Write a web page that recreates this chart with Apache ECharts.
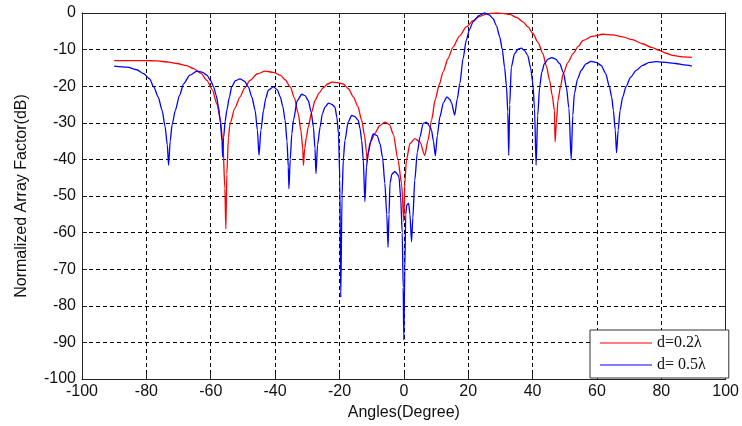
<!DOCTYPE html>
<html>
<head>
<meta charset="utf-8">
<script src="https://cdn.jsdelivr.net/npm/echarts@6/dist/echarts.min.js"></script>
<style>
html,body{margin:0;padding:0;background:#fff;}
#chart{width:742px;height:426px;}
</style>
</head>
<body>
<div id="chart"></div>
<script>
// Tick values
var xTicks = [-100, -80, -60, -40, -20, 0, 20, 40, 60, 80, 100];
var yTicks = [-100, -90, -80, -70, -60, -50, -40, -30, -20, -10, 0];

var seriesNames = ['d=0.2\u03bb', 'd= 0.5\u03bb'];

// d = 0.2 lambda (red)
var redX = [-90,-85,-80,-76.7,-73,-70.5,-67.5,-65.3,-63,-61.2,-59.5,-58.1,-57,-56.2,-55.6,-55.3,-55,-54.5,-54,-52.5,-50.9,-49.5,-47.8,-45.5,-43.1,-40.5,-38.4,-36.8,-35.3,-34,-32.8,-32,-31.4,-31.2,-30.8,-30.3,-29.7,-28.6,-27.6,-26.3,-25,-23.7,-22.4,-20.5,-18.8,-17.2,-15.7,-14.3,-13.1,-12.2,-11.6,-11.4,-11,-10.2,-9,-7.5,-5.9,-4.5,-3.3,-1.8,-0.7,0,0.3,0.8,1.9,3.4,5,6.5,7.5,8.6,9.8,11,12.2,13.7,15.3,17.3,19.4,21.5,23.6,26,28.7,30.8,32.9,35,37,38.6,40.1,41.7,43.2,44.3,45.3,46.1,46.8,47,47.4,47.9,48.7,49.5,51,52.6,54.2,55.7,58.5,61.9,65,68,71,74.2,77,79.4,81.5,83.5,86.5,89.5];
var redY = [-13,-13,-13,-13.1,-13.4,-13.8,-14.4,-15.2,-16.5,-18.4,-21,-24.8,-29,-36,-48,-59,-44,-34,-30.2,-26,-22.9,-20.5,-18.4,-16.6,-15.9,-16.2,-17,-18.3,-20.2,-23.2,-27.5,-32,-37,-41.6,-37,-34,-31.1,-27,-23.9,-21.8,-20.4,-19.4,-18.9,-19,-19.4,-20.7,-22.9,-25.5,-29.3,-33.5,-38,-40.5,-38,-35,-32.9,-30.8,-29.8,-30.5,-33,-40.2,-46.6,-57,-46.6,-40.2,-35.7,-34.3,-35.2,-38.9,-34.8,-29.3,-23.5,-19.6,-16.1,-12.5,-9.3,-6.3,-3.8,-2.1,-0.9,-0.2,0,-0.1,-0.4,-1.2,-2.4,-3.8,-5.6,-8,-11.1,-14.5,-18.4,-22.5,-26.6,-35.2,-30,-23.9,-20,-16.6,-13.5,-11.1,-9.1,-7.5,-6.4,-5.8,-6,-6.5,-7.3,-8.4,-9.4,-10.2,-11,-11.6,-12,-12.1];

// d = 0.5 lambda (blue)
var blueX = [-90,-86,-83,-80.8,-79,-77.7,-76.3,-75.1,-74.2,-73.5,-73.1,-72.6,-72,-71,-69.7,-68.4,-66.5,-64.3,-62.5,-61.2,-60,-59.1,-58.3,-57.6,-57,-56.5,-56.3,-56,-55.5,-55,-54.2,-53.5,-52.3,-50.9,-49.5,-48.3,-47.2,-46.2,-45.5,-45,-44.4,-43.6,-42.9,-42.1,-40.5,-39.3,-38.4,-37.6,-36.9,-36.3,-35.9,-35.7,-35.3,-34.8,-34.3,-33.1,-31.7,-30.7,-29.7,-28.8,-28.1,-27.6,-27.3,-26.8,-26,-25.3,-24.5,-23.4,-22.3,-21.4,-20.8,-20.3,-19.9,-19.6,-19.2,-18.8,-18.3,-17.3,-16.2,-15.2,-14.2,-13.6,-13.1,-12.6,-12.1,-11.6,-11.1,-10.5,-9.5,-8.3,-7.4,-6.6,-5.9,-5.3,-4.9,-4.6,-4.3,-3.7,-2.8,-2,-1.5,-1,-0.5,-0.2,0,0.3,0.6,0.9,1.5,1.9,2.4,2.8,3.4,4.2,5,6,7,8.1,8.6,9.2,9.8,10.4,11.2,12.3,13.4,14.3,14.8,15.8,16.6,17.4,18.4,19.4,20.4,21.5,23.3,25.1,26.5,27.7,28.8,29.8,30.6,31.3,31.9,32.3,32.6,32.9,33.4,34.4,35.5,36.5,37.5,38.5,39.4,40.1,40.6,41.1,41.6,42.2,42.9,43.7,44.8,46,47.2,48.4,49.6,50.5,51.3,52,52.5,53,54,55.1,56.6,58.2,59.8,61.3,62.7,63.9,64.6,65.1,65.7,66.1,66.6,67.2,68,69,70.5,72.2,74.2,76.3,78.3,80.4,82.5,84.5,87,89.5];
var blueY = [-14.5,-14.8,-15.5,-16.6,-18,-20.2,-23,-26.6,-31,-36,-41.6,-35,-30.5,-26.6,-22.5,-19.3,-17,-15.9,-16.2,-17,-18.5,-20.2,-22.5,-25.5,-30,-35,-39.3,-34,-29.5,-26.6,-23,-20.2,-18.5,-18,-18.6,-20.2,-23,-26.6,-32,-38.9,-32,-26.6,-23.3,-21.1,-20.2,-21,-22.9,-25.5,-29.3,-35,-42,-48,-40,-33,-29.3,-23.9,-22.2,-22.6,-23.9,-27,-31.1,-37,-43.9,-36,-31.1,-27.5,-25.7,-24.6,-25,-25.7,-28.5,-33,-45,-77.7,-50,-40,-34.8,-29.8,-28,-28.3,-29.3,-31.5,-34.8,-40,-51.5,-42,-38.4,-35.5,-33,-33.5,-35.7,-39.5,-46.5,-55,-64,-55,-46.5,-44,-43.3,-44,-44.8,-50.3,-60,-75,-89.4,-70,-55,-52.5,-52,-55,-62.5,-56,-45.7,-38,-33.9,-30.2,-29.8,-31,-32,-35,-39,-33.5,-28.4,-24.5,-22.9,-23.6,-24.5,-27.9,-23.5,-19.3,-12.5,-7.5,-4.5,-2.4,-0.7,0,-0.5,-1.5,-3.5,-6.5,-10,-14.8,-20,-27,-38.9,-25,-14.8,-11.1,-9.9,-9.6,-10.3,-11.6,-15,-19.3,-26,-41.6,-28,-20.2,-16,-13.8,-12.6,-12.2,-12.6,-13.8,-16.3,-20.2,-26,-40.1,-28,-22,-18,-15.7,-13.9,-13.2,-13.5,-14.3,-16.5,-20.2,-23,-26.6,-32,-38.2,-32,-26.6,-23,-20.2,-17.5,-15.7,-14.3,-13.5,-13.3,-13.4,-13.6,-13.8,-14.2,-14.5];

function zip(xs, ys) { var o = []; for (var i = 0; i < xs.length; i++) o.push([xs[i], ys[i]]); return o; }

var chart = echarts.init(document.getElementById('chart'), null, {renderer: 'canvas'});
var labelFont = {color: '#111', fontFamily: 'Liberation Sans, Arial, sans-serif', fontSize: 16};
var dash = {show: true, lineStyle: {color: '#000', type: [4, 3], width: 1}};
var xMin = xTicks[0], xMax = xTicks[xTicks.length - 1], xStep = xTicks[1] - xTicks[0];
var yMin = yTicks[0], yMax = yTicks[yTicks.length - 1], yStep = yTicks[1] - yTicks[0];

chart.setOption({
  backgroundColor: '#fff',
  animation: false,
  grid: {left: 82, right: 16, top: 13, bottom: 47, containLabel: false},
  legend: {
    orient: 'vertical', left: 590, top: 330,
    padding: [5, 23, 5, 10], itemGap: 6,
    itemWidth: 52, itemHeight: 1, icon: 'rect',
    backgroundColor: '#fff', borderColor: '#333', borderWidth: 1,
    textStyle: {fontFamily: 'Liberation Serif, Times New Roman, serif', fontSize: 16, color: '#111'},
    data: seriesNames
  },
  xAxis: [{
    type: 'value', min: xMin, max: xMax, interval: xStep, position: 'bottom',
    name: 'Angles(Degree)', nameLocation: 'middle', nameGap: 20,
    nameTextStyle: labelFont,
    axisLine: {show: true, onZero: false, lineStyle: {color: '#222', width: 1}},
    axisTick: {show: true, inside: true, length: 5, lineStyle: {color: '#222'}},
    axisLabel: Object.assign({margin: 5}, labelFont),
    splitLine: dash
  }, {
    type: 'value', min: xMin, max: xMax, interval: xStep, position: 'top',
    axisLine: {show: true, onZero: false, lineStyle: {color: '#222', width: 1}},
    axisTick: {show: true, inside: true, length: 5, lineStyle: {color: '#222'}},
    axisLabel: {show: false}, splitLine: {show: false}
  }],
  yAxis: [{
    type: 'value', min: yMin, max: yMax, interval: yStep, position: 'left',
    name: 'Normalized Array Factor(dB)', nameLocation: 'middle', nameGap: 52, nameRotate: 90,
    nameTextStyle: labelFont,
    axisLine: {show: true, onZero: false, lineStyle: {color: '#222', width: 1}},
    axisTick: {show: true, inside: true, length: 5, lineStyle: {color: '#222'}},
    axisLabel: Object.assign({margin: 6}, labelFont),
    splitLine: dash
  }, {
    type: 'value', min: yMin, max: yMax, interval: yStep, position: 'right',
    axisLine: {show: true, onZero: false, lineStyle: {color: '#222', width: 1}},
    axisTick: {show: true, inside: true, length: 5, lineStyle: {color: '#222'}},
    axisLabel: {show: false}, splitLine: {show: false}
  }],
  series: [{
    name: seriesNames[0], type: 'line', data: zip(redX, redY),
    showSymbol: false, symbol: 'none', smooth: 0.25, smoothMonotone: 'x',
    itemStyle: {color: '#ff0000'}, lineStyle: {color: '#ff0000', width: 1.3}
  }, {
    name: seriesNames[1], type: 'line', data: zip(blueX, blueY),
    showSymbol: false, symbol: 'none', smooth: 0.25, smoothMonotone: 'x',
    itemStyle: {color: '#0000ff'}, lineStyle: {color: '#0000ff', width: 1.3}
  }]
});
</script>
</body>
</html>
